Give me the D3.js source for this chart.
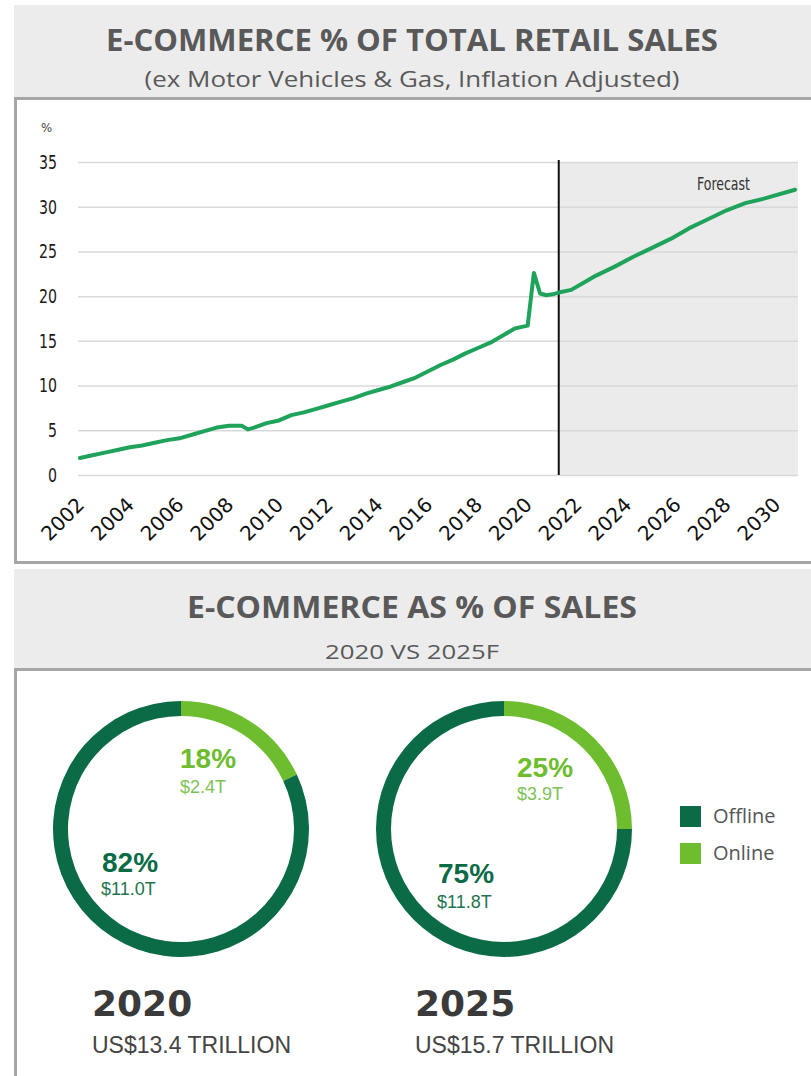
<!DOCTYPE html>
<html>
<head>
<meta charset="utf-8">
<script src="https://cdn.jsdelivr.net/npm/d3@7"></script>
<style>
body { margin: 0; background: #fff; }
.hdrTitle { font-family: 'Open Sans', sans-serif; font-weight: 700; fill: #595959; }
.hdrSub { font-family: 'Open Sans', sans-serif; fill: #595959; }
.axisY text { font-family: 'Liberation Sans Narrow', 'DejaVu Sans Condensed', 'Roboto', sans-serif; font-size: 20px; fill: #1a1a1a; }
.axisY line { stroke: #d9d9d9; stroke-width: 1.5; }
.axisX text { font-family: 'DejaVu Sans', sans-serif; font-size: 20px; fill: #111; }
.donutPct { font-family: 'Liberation Sans', Arial, sans-serif; font-weight: 700; font-size: 28px; }
.donutAmt { font-family: 'Liberation Sans', Arial, sans-serif; font-size: 18px; }
.legend text { font-family: 'Open Sans', sans-serif; font-size: 20px; fill: #555; }
</style>
</head>
<body>
<svg id="chart" width="811" height="1076"></svg>
<script>

// e-commerce share of retail sales, % (decimal years)
const periods = [2002.0, 2002.5, 2003.0, 2003.5, 2004.0, 2004.5, 2005.0, 2005.5, 2006.0, 2006.5,
                 2007.0, 2007.5, 2008.0, 2008.5, 2008.75, 2009.0, 2009.5, 2010.0, 2010.5, 2011.0,
                 2011.5, 2012.0, 2012.5, 2013.0, 2013.5, 2014.0, 2014.5, 2015.0, 2015.5, 2016.0,
                 2016.5, 2017.0, 2017.5, 2018.0, 2018.5, 2019.0, 2019.5, 2020.0, 2020.25, 2020.5,
                 2020.75, 2021.0, 2021.25, 2021.75, 2022.25, 2022.75, 2023.5, 2024.25, 2025.0, 2025.75,
                 2026.5, 2027.25, 2028.0, 2028.75, 2029.5, 2030.75];
const sharePct = [1.9, 2.2, 2.5, 2.8, 3.1, 3.3, 3.6, 3.9, 4.1, 4.5,
                  4.9, 5.3, 5.5, 5.5, 5.1, 5.3, 5.8, 6.1, 6.7, 7.0,
                  7.4, 7.8, 8.2, 8.6, 9.1, 9.5, 9.9, 10.4, 10.9, 11.6,
                  12.3, 12.9, 13.6, 14.2, 14.8, 15.6, 16.4, 16.7, 22.6, 20.3,
                  20.1, 20.2, 20.4, 20.7, 21.5, 22.3, 23.3, 24.4, 25.4, 26.4,
                  27.6, 28.6, 29.6, 30.4, 30.9, 31.9];
const forecastStart = 2021.25;
const xTickYears = d3.range(2002, 2031, 2);
const yTicks = [0, 5, 10, 15, 20, 25, 30, 35];

// donuts
const donutYears = ['2020', '2025'];
const onlinePct = [18, 25];
const offlinePct = [82, 75];
const onlineAmt = ['$2.4T', '$3.9T'];
const offlineAmt = ['$11.0T', '$11.8T'];
const marketTotals = ['US$13.4 TRILLION', 'US$15.7 TRILLION'];
const channels = ['Offline', 'Online'];

const colOffline = '#0a6b46',
      colOnline = '#6dbd2e',
      colLine = '#1fa35a';

const svg = d3.select('#chart');

// ---- headers and boxes ----
function header(y, h, title, sub, titleY, subY, titleLen, subLen, titleSize, subSize) {
    svg.append('rect').attr('x', 14).attr('y', y).attr('width', 797).attr('height', h).attr('fill', '#ececec');
    svg.append('text').attr('class', 'hdrTitle')
        .attr('x', 412).attr('y', titleY).attr('text-anchor', 'middle')
        .attr('font-size', titleSize)
        .attr('textLength', titleLen).attr('lengthAdjust', 'spacingAndGlyphs')
        .text(title);
    svg.append('text').attr('class', 'hdrSub')
        .attr('x', 412).attr('y', subY).attr('text-anchor', 'middle')
        .attr('font-size', subSize)
        .attr('textLength', subLen).attr('lengthAdjust', 'spacingAndGlyphs')
        .text(sub);
}

header(5, 93, 'E-COMMERCE % OF TOTAL RETAIL SALES', '(ex Motor Vehicles & Gas, Inflation Adjusted)',
       51, 87, 612, 535, 31, 22);
svg.append('rect').attr('x', 15.5).attr('y', 98.5).attr('width', 800).attr('height', 464)
    .attr('fill', '#fff').attr('stroke', '#a6a6a6').attr('stroke-width', 3);

header(569, 100, 'E-COMMERCE AS % OF SALES', '2020 VS 2025F', 618, 659, 450, 174, 30, 20);
svg.append('rect').attr('x', 15.5).attr('y', 669.5).attr('width', 800).attr('height', 440)
    .attr('fill', '#fff').attr('stroke', '#a6a6a6').attr('stroke-width', 3);

// ---- line chart ----
const x = d3.scaleLinear().domain([2002, 2030.75]).range([80, 795]);
const y = d3.scaleLinear().domain([0, 35]).range([475, 162]);

svg.append('rect')
    .attr('x', x(forecastStart)).attr('y', y(35))
    .attr('width', 798 - x(forecastStart)).attr('height', y(0) - y(35))
    .attr('fill', '#ebebeb');

svg.append('g')
    .attr('class', 'axisY')
    .attr('transform', 'translate(78,0)')
    .call(d3.axisLeft(y).tickValues(yTicks).tickSize(-720).tickPadding(21))
    .call(g => g.select('.domain').remove())
    .call(g => g.selectAll('.tick text')
        .attr('textLength', d => String(d).length * 9)
        .attr('lengthAdjust', 'spacingAndGlyphs'));

svg.append('text')
    .attr('x', 41).attr('y', 132)
    .attr('font-family', "'Liberation Sans Narrow', 'DejaVu Sans Condensed', sans-serif")
    .attr('font-size', 13).attr('fill', '#444')
    .text('%');

svg.append('line')
    .attr('x1', x(forecastStart)).attr('x2', x(forecastStart))
    .attr('y1', y(35) - 2).attr('y2', y(0))
    .attr('stroke', '#111').attr('stroke-width', 2);

svg.append('text')
    .attr('x', 750).attr('y', 190).attr('text-anchor', 'end')
    .attr('font-family', "'Liberation Sans Narrow', 'DejaVu Sans Condensed', sans-serif")
    .attr('font-size', 18).attr('fill', '#333')
    .attr('textLength', 53).attr('lengthAdjust', 'spacingAndGlyphs')
    .text('Forecast');

const line = d3.line()
    .x(d => x(d[0]))
    .y(d => y(d[1]));

svg.append('path')
    .datum(d3.zip(periods, sharePct))
    .attr('d', line)
    .attr('fill', 'none')
    .attr('stroke', colLine)
    .attr('stroke-width', 4)
    .attr('stroke-linejoin', 'round')
    .attr('stroke-linecap', 'round');

svg.append('g')
    .attr('class', 'axisX')
    .attr('transform', 'translate(0,475)')
    .call(d3.axisBottom(x).tickValues(xTickYears).tickFormat(d3.format('d')).tickSize(0))
    .call(g => g.select('.domain').remove())
    .call(g => g.selectAll('.tick text')
        .attr('text-anchor', 'end')
        .attr('x', 0).attr('y', 0).attr('dy', 0)
        .attr('transform', 'translate(5,31) rotate(-45)'));

// ---- donuts ----
const pie = d3.pie().sort(null).value(d => d.v);
const arc = d3.arc().innerRadius(113).outerRadius(128);
const centers = [[181, 829], [504, 829]];
// label offsets from donut centre: [onlineX, onlinePctY, onlineAmtY, offlineX, offlinePctY, offlineAmtY]
const labelPos = [[-1, -61, -36, -79, 43, 66], [13, -52, -29, -66, 54, 79]];

donutYears.forEach((yr, i) => {
    const g = svg.append('g').attr('transform', 'translate(' + centers[i] + ')');
    const parts = [{k: 'Online', v: onlinePct[i]}, {k: 'Offline', v: offlinePct[i]}];

    g.selectAll('path')
        .data(pie(parts))
        .join('path')
        .attr('d', arc)
        .attr('fill', d => d.data.k === 'Online' ? colOnline : colOffline);

    const p = labelPos[i];
    g.append('text').attr('class', 'donutPct').attr('x', p[0]).attr('y', p[1])
        .attr('fill', colOnline).text(onlinePct[i] + '%');
    g.append('text').attr('class', 'donutAmt').attr('x', p[0]).attr('y', p[2])
        .attr('fill', '#7cc255').text(onlineAmt[i]);
    g.append('text').attr('class', 'donutPct').attr('x', p[3]).attr('y', p[4])
        .attr('fill', colOffline).text(offlinePct[i] + '%');
    g.append('text').attr('class', 'donutAmt').attr('x', p[3] - 1).attr('y', p[5])
        .attr('fill', '#1f7551').text(offlineAmt[i]);

    svg.append('text')
        .attr('x', centers[i][0] - 89).attr('y', 1016)
        .attr('font-family', "'DejaVu Sans', sans-serif").attr('font-weight', 700)
        .attr('font-size', 36).attr('fill', '#3a3a3a')
        .text(yr);
    svg.append('text')
        .attr('x', centers[i][0] - 89).attr('y', 1053)
        .attr('font-family', "'Liberation Sans', Arial, sans-serif")
        .attr('font-size', 23).attr('fill', '#444')
        .text(marketTotals[i]);
});

// legend
const legend = svg.append('g').attr('class', 'legend');
channels.forEach((c, i) => {
    legend.append('rect')
        .attr('x', 680).attr('y', 806 + i * 37).attr('width', 21).attr('height', 21)
        .attr('fill', c === 'Online' ? colOnline : colOffline);
    legend.append('text')
        .attr('x', 713).attr('y', 823 + i * 37)
        .text(c);
});

</script>
</body>
</html>
